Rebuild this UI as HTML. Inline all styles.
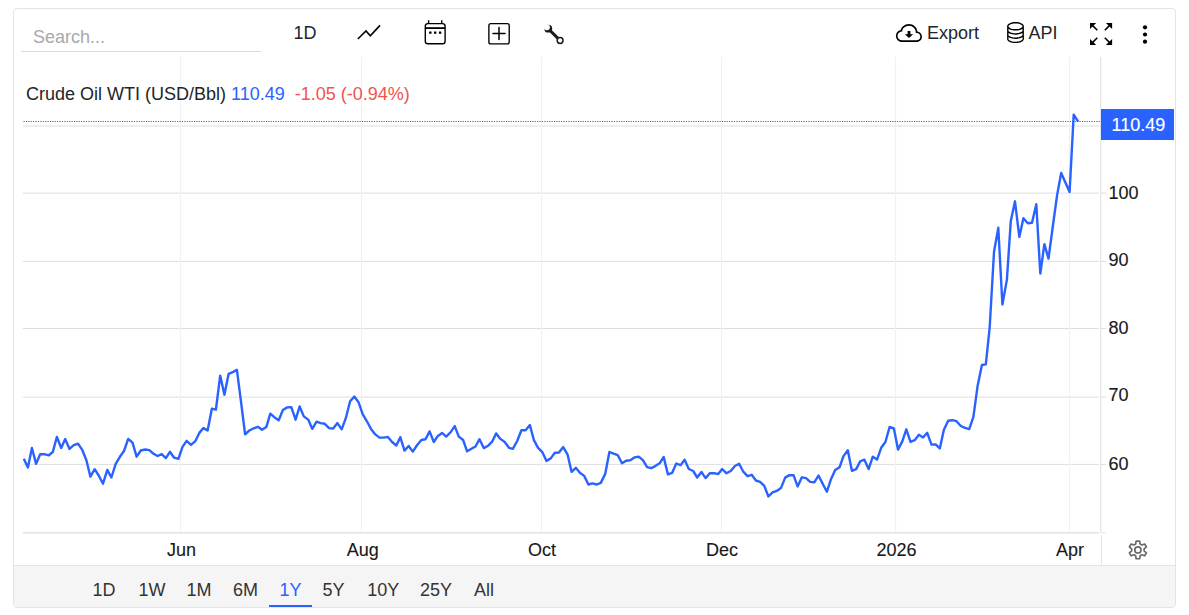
<!DOCTYPE html>
<html><head><meta charset="utf-8"><title>Crude Oil WTI</title>
<style>
html,body{margin:0;padding:0;background:#fff;}
body{width:1189px;height:615px;position:relative;overflow:hidden;font-family:"Liberation Sans",sans-serif;font-size:18px;color:#212529;}
.card{position:absolute;left:13px;top:8px;width:1161px;height:598px;border:1px solid #e1e4e8;border-radius:4px;box-sizing:content-box;}
.abs{position:absolute;white-space:nowrap;line-height:20px;}
.search{position:absolute;left:21px;top:21px;width:240px;height:30px;border-bottom:1px solid #d8dbde;}
.search span{position:absolute;left:12px;top:6px;color:#a9a9a9;line-height:20px;}
.yl{-webkit-text-stroke:0.12px #191919;position:absolute;left:1108.5px;line-height:22px;color:#191919;white-space:nowrap;}
.xl{-webkit-text-stroke:0.12px #191919;position:absolute;top:539px;width:80px;text-align:center;line-height:22px;color:#191919;white-space:nowrap;}
.bar{position:absolute;left:14px;top:565px;width:1161px;height:42px;background:#f5f5f5;border-top:1px solid #e4e4ea;box-sizing:border-box;border-radius:0 0 3px 3px;}
.rb{position:absolute;top:579px;line-height:22px;color:#333;white-space:nowrap;}
.rb.act{color:#2962ff;}
.ul{position:absolute;left:269px;top:605px;width:43px;height:2px;background:#2962ff;}
.tag{position:absolute;left:1101px;top:109px;width:73px;height:31px;background:#2962ff;color:#fff;line-height:31px;}
.tag span{-webkit-text-stroke:0.15px #fff;position:absolute;left:10.5px;top:1px;}
svg{position:absolute;left:0;top:0;}
</style></head><body>
<div class="card"></div>
<div class="bar"></div>
<svg width="1189" height="615" viewBox="0 0 1189 615">
<line x1="23" x2="1099" y1="126.0" y2="126.0" stroke="#dedede" stroke-width="1"/><line x1="1101" x2="1106" y1="126.0" y2="126.0" stroke="#dedede" stroke-width="1"/><line x1="23" x2="1099" y1="193.1" y2="193.1" stroke="#dedede" stroke-width="1"/><line x1="1101" x2="1106" y1="193.1" y2="193.1" stroke="#dedede" stroke-width="1"/><line x1="23" x2="1099" y1="261.4" y2="261.4" stroke="#dedede" stroke-width="1"/><line x1="1101" x2="1106" y1="261.4" y2="261.4" stroke="#dedede" stroke-width="1"/><line x1="23" x2="1099" y1="328.5" y2="328.5" stroke="#dedede" stroke-width="1"/><line x1="1101" x2="1106" y1="328.5" y2="328.5" stroke="#dedede" stroke-width="1"/><line x1="23" x2="1099" y1="397.1" y2="397.1" stroke="#dedede" stroke-width="1"/><line x1="1101" x2="1106" y1="397.1" y2="397.1" stroke="#dedede" stroke-width="1"/><line x1="23" x2="1099" y1="464.4" y2="464.4" stroke="#dedede" stroke-width="1"/><line x1="1101" x2="1106" y1="464.4" y2="464.4" stroke="#dedede" stroke-width="1"/><line x1="180.5" x2="180.5" y1="57" y2="532" stroke="#eef2f6" stroke-width="1.2"/><line x1="361.5" x2="361.5" y1="57" y2="532" stroke="#eef2f6" stroke-width="1.2"/><line x1="541.5" x2="541.5" y1="57" y2="532" stroke="#eef2f6" stroke-width="1.2"/><line x1="721.5" x2="721.5" y1="57" y2="532" stroke="#eef2f6" stroke-width="1.2"/><line x1="895.6" x2="895.6" y1="57" y2="532" stroke="#eef2f6" stroke-width="1.2"/><line x1="1069.5" x2="1069.5" y1="57" y2="532" stroke="#eef2f6" stroke-width="1.2"/>
<line x1="23" x2="1099" y1="532.85" y2="532.85" stroke="#e7e7e7" stroke-width="1.9"/>
<line x1="1100.2" x2="1105.9" y1="532.7" y2="532.7" stroke="#ececec" stroke-width="1.4"/>
<line x1="1100.65" x2="1100.65" y1="57" y2="532.3" stroke="#e4e4e4" stroke-width="1.2"/>
<line x1="1101.5" x2="1101.5" y1="535" y2="565" stroke="#e4e4e4" stroke-width="1.2"/>
<line x1="23" x2="1101" y1="121.5" y2="121.5" stroke="#2962ff" stroke-width="1" stroke-dasharray="1.2 1.2" stroke-dashoffset="1.9"/>
<polyline points="23.8,458.8 27.9,467.4 31.9,448.0 36.1,463.9 40.2,454.3 44.4,454.1 48.8,455.3 52.8,452.0 56.9,436.9 61.2,448.0 65.2,439.1 69.5,448.9 73.7,445.2 78.0,443.7 82.4,450.2 86.4,460.3 90.4,476.7 94.7,469.2 98.7,475.5 103.0,483.7 107.3,469.9 111.4,477.5 115.7,463.9 119.9,456.8 124.0,451.0 128.2,438.9 132.5,442.7 136.6,456.7 140.8,450.5 145.2,449.5 149.3,450.1 153.2,453.5 157.5,456.0 161.7,454.1 165.9,458.1 169.9,451.8 174.1,457.7 178.4,458.8 182.4,447.1 186.6,440.8 191.0,444.8 195.3,441.2 199.3,432.9 203.4,428.1 207.6,430.4 211.9,408.6 215.9,409.6 220.2,375.6 224.4,394.8 228.6,373.9 232.8,372.1 236.9,369.9 241.1,402.4 245.1,434.4 249.3,430.5 253.7,428.3 257.9,426.8 262.0,429.8 266.3,427.1 270.3,413.7 274.6,417.4 278.7,420.2 282.9,410.0 287.2,407.4 291.3,407.1 295.6,419.7 299.6,406.5 303.8,416.4 308.2,419.6 312.2,428.8 316.6,421.7 320.6,423.1 324.8,423.8 329.1,428.1 333.2,428.5 337.4,423.1 341.7,429.3 345.8,418.2 350.1,401.3 354.3,396.6 358.4,401.9 362.7,414.2 366.9,421.3 371.0,428.9 375.3,434.4 379.5,437.6 383.8,437.6 387.9,436.9 392.1,442.0 396.3,445.5 400.3,437.2 404.5,450.6 408.6,446.0 412.8,451.6 417.2,445.0 421.4,440.0 425.5,439.3 429.6,431.4 433.8,442.0 437.9,435.9 442.1,432.9 446.2,436.6 450.5,432.4 454.7,426.1 458.8,436.6 463.1,440.0 467.1,451.3 471.4,448.8 475.5,446.5 479.5,439.2 483.8,448.1 488.0,445.8 492.1,441.7 496.2,433.4 500.4,438.9 504.7,442.0 509.0,447.8 513.0,448.8 517.3,440.7 521.4,430.3 525.6,430.3 529.9,425.1 533.9,440.2 538.1,447.8 542.3,452.1 546.5,460.9 550.7,458.4 554.9,452.8 559.0,452.5 563.2,447.1 567.5,454.3 571.6,471.9 575.8,467.8 579.9,472.8 584.2,475.9 588.4,484.5 592.5,483.4 596.8,484.5 600.8,482.9 605.2,473.9 609.4,452.0 613.6,453.7 617.8,455.2 622.0,463.3 626.1,460.7 630.3,460.2 634.4,457.4 638.7,456.7 642.9,460.2 647.1,467.1 651.3,468.1 655.3,466.1 659.6,463.3 663.7,457.0 667.9,474.4 672.2,472.8 676.3,463.5 680.6,465.1 684.6,459.7 688.8,469.0 693.2,471.0 697.2,477.5 701.4,472.0 705.6,478.1 709.8,473.3 714.1,473.1 718.2,474.1 722.2,469.0 726.5,473.3 730.7,471.0 734.9,466.0 739.1,463.7 743.3,471.7 747.5,476.1 751.7,474.8 755.9,480.5 760.1,481.8 764.3,485.9 768.4,496.5 772.6,492.4 776.7,490.9 781.0,487.9 785.2,477.6 789.4,475.1 793.6,475.3 797.6,486.4 801.9,477.3 806.0,478.2 810.2,481.9 814.3,482.4 818.5,475.5 822.6,483.6 826.9,491.7 831.1,478.9 835.2,470.1 839.5,467.3 843.5,456.1 847.8,450.3 851.9,470.8 856.2,469.1 860.2,461.4 864.4,459.7 868.6,469.1 872.8,456.7 877.0,459.6 881.2,447.8 885.4,442.0 889.6,427.0 893.9,428.5 898.0,449.6 902.3,441.4 906.3,429.3 910.5,441.9 914.7,440.2 918.9,434.8 923.1,437.5 927.2,432.8 931.5,444.6 935.6,444.4 939.8,448.4 943.9,429.8 948.2,420.7 952.4,420.2 956.5,421.2 960.8,426.0 965.0,427.8 969.2,429.1 973.4,416.8 977.6,385.9 981.9,365.0 985.8,364.4 989.7,327.3 994.0,252.0 998.3,227.8 1002.4,304.5 1006.9,279.6 1010.8,221.0 1015.0,201.3 1019.3,236.9 1023.4,218.2 1027.8,223.3 1032.0,222.8 1036.3,204.2 1040.3,273.5 1044.4,244.2 1048.5,258.6 1052.8,226.5 1057.1,195.1 1061.2,172.9 1065.4,182.5 1069.6,192.0 1073.7,114.7 1078.2,121.6" fill="none" stroke="#2962ff" stroke-width="2.4" stroke-linejoin="round" stroke-linecap="butt"/>
<polyline points="357.8,39 366,31 370.3,35.8 380,25.4" fill="none" stroke="#000" stroke-width="1.6" stroke-linecap="butt" stroke-linejoin="miter"/>
<rect x="425.3" y="23.6" width="19.8" height="20.2" rx="2.6" fill="none" stroke="#000" stroke-width="1.4"/>
<line x1="428.6" x2="428.6" y1="20.2" y2="23.6" stroke="#000" stroke-width="1.4"/><line x1="441.7" x2="441.7" y1="20.2" y2="23.6" stroke="#000" stroke-width="1.4"/>
<line x1="425.3" x2="445.1" y1="28.1" y2="28.1" stroke="#000" stroke-width="1.8"/>
<rect x="429.1" y="31.4" width="2.4" height="2.4" rx="0.4" fill="#000"/>
<rect x="434.0" y="31.4" width="2.4" height="2.4" rx="0.4" fill="#000"/>
<rect x="438.90000000000003" y="31.4" width="2.4" height="2.4" rx="0.4" fill="#000"/>
<g transform="translate(488.2,22.9) scale(1.356)" fill="#000"><path d="M14 1a1 1 0 0 1 1 1v12a1 1 0 0 1-1 1H2a1 1 0 0 1-1-1V2a1 1 0 0 1 1-1zM2 0a2 2 0 0 0-2 2v12a2 2 0 0 0 2 2h12a2 2 0 0 0 2-2V2a2 2 0 0 0-2-2z"/></g>
<path d="M493,33.6 H505 M499,27.6 V39.6" stroke="#000" stroke-width="1.5" fill="none" stroke-linecap="round"/>
<line x1="549.8" y1="30.2" x2="558" y2="38.4" stroke="#1a1a1a" stroke-width="3"/>
<circle cx="548.3" cy="28.7" r="3.9" fill="#1a1a1a"/><circle cx="546.88" cy="27.28" r="3.0" fill="#fff"/>
<circle cx="560.1" cy="40.5" r="2.9" fill="#fff" stroke="#1a1a1a" stroke-width="1.5"/>
<g transform="translate(895.9,20.74) scale(1.631)" fill="#000"><path d="M4.406 3.342A5.53 5.53 0 0 1 8 2c2.69 0 4.923 2 5.166 4.579C14.758 6.804 16 8.137 16 9.773 16 11.569 14.502 13 12.687 13H3.781C1.708 13 0 11.366 0 9.318c0-1.763 1.266-3.223 2.942-3.593.143-.863.698-1.723 1.464-2.383m.653.757c-.757.653-1.153 1.44-1.153 2.056v.448l-.445.049C2.064 6.805 1 7.952 1 9.318 1 10.785 2.23 12 3.781 12h8.906C13.98 12 15 10.988 15 9.773c0-1.216-1.02-2.228-2.313-2.228h-.5v-.5C12.188 4.825 10.328 3 8 3a4.53 4.53 0 0 0-2.941 1.1z"/></g>
<path d="M907.6,30.9 h2.8 v3.4 h2.8 L909,38.1 L904.8,34.3 h2.8 Z" fill="#000"/>
<g transform="translate(1004.3,20.7) scale(1.4)" fill="#000"><path d="M4.318 2.687C5.234 2.271 6.536 2 8 2s2.766.27 3.682.687C12.644 3.125 13 3.627 13 4c0 .374-.356.875-1.318 1.313C10.766 5.729 9.464 6 8 6s-2.766-.27-3.682-.687C3.356 4.875 3 4.373 3 4c0-.374.356-.875 1.318-1.313M13 5.698V7c0 .374-.356.875-1.318 1.313C10.766 8.729 9.464 9 8 9s-2.766-.27-3.682-.687C3.356 7.875 3 7.373 3 7V5.698c.271.202.58.378.904.525C4.978 6.711 6.427 7 8 7s3.022-.289 4.096-.777A5 5 0 0 0 13 5.698M14 4c0-1.007-.875-1.755-1.904-2.223C11.022 1.289 9.573 1 8 1s-3.022.289-4.096.777C2.875 2.245 2 2.993 2 4v9c0 1.007.875 1.755 1.904 2.223C4.978 15.71 6.427 16 8 16s3.022-.289 4.096-.777C13.125 14.755 14 14.007 14 13zm-1 4.698V10c0 .374-.356.875-1.318 1.313C10.766 11.729 9.464 12 8 12s-2.766-.27-3.682-.687C3.356 10.875 3 10.373 3 10V8.698c.271.202.58.378.904.525C4.978 9.71 6.427 10 8 10s3.022-.289 4.096-.777A5 5 0 0 0 13 8.698m0 3V13c0 .374-.356.875-1.318 1.313C10.766 14.729 9.464 15 8 15s-2.766-.27-3.682-.687C3.356 13.875 3 13.373 3 13v-1.302c.271.202.58.378.904.525C4.978 12.71 6.427 13 8 13s3.022-.289 4.096-.777c.324-.147.633-.323.904-.525"/></g>
<path d="M1090,22.9 L1096.2,22.9 L1090,29.099999999999998Z" fill="#000"/><line x1="1091.5" y1="24.4" x2="1097.3" y2="30.2" stroke="#000" stroke-width="1.6"/><path d="M1112.1,22.9 L1105.8999999999999,22.9 L1112.1,29.099999999999998Z" fill="#000"/><line x1="1110.6" y1="24.4" x2="1104.8" y2="30.2" stroke="#000" stroke-width="1.6"/><path d="M1090,45.1 L1096.2,45.1 L1090,38.9Z" fill="#000"/><line x1="1091.5" y1="43.6" x2="1097.3" y2="37.800000000000004" stroke="#000" stroke-width="1.6"/><path d="M1112.1,45.1 L1105.8999999999999,45.1 L1112.1,38.9Z" fill="#000"/><line x1="1110.6" y1="43.6" x2="1104.8" y2="37.800000000000004" stroke="#000" stroke-width="1.6"/>
<circle cx="1145" cy="27.3" r="2.1" fill="#000"/>
<circle cx="1145" cy="34.5" r="2.1" fill="#000"/>
<circle cx="1145" cy="41.7" r="2.1" fill="#000"/>
<path d="M1135.64,544.02 L1136.18,541.07 L1139.62,541.07 L1140.16,544.02 L1141.86,545.00 L1144.69,544.00 L1146.41,546.97 L1144.12,548.91 L1144.12,550.89 L1146.41,552.83 L1144.69,555.80 L1141.86,554.80 L1140.16,555.78 L1139.62,558.73 L1136.18,558.73 L1135.64,555.78 L1133.94,554.80 L1131.11,555.80 L1129.39,552.83 L1131.68,550.89 L1131.68,548.91 L1129.39,546.97 L1131.11,544.00 L1133.94,545.00Z" fill="none" stroke="#6a6a6a" stroke-width="1.7" stroke-linejoin="round"/><circle cx="1137.9" cy="549.9" r="3.1" fill="none" stroke="#6a6a6a" stroke-width="1.7"/>
</svg>
<div class="search"><span>Search...</span></div>
<div class="abs" style="left:293.5px;top:23px;">1D</div>
<div class="abs" style="left:927px;top:23px;">Export</div>
<div class="abs" style="left:1028.5px;top:23px;">API</div>
<div class="abs" style="left:26px;top:84px;">Crude Oil WTI (USD/Bbl) <span style="color:#2962ff">110.49</span> <span style="color:#ef5350;margin-left:5px">-1.05 (-0.94%)</span></div>
<div class="tag"><span>110.49</span></div>
<div class="yl" style="top:182px">100</div><div class="yl" style="top:249px">90</div><div class="yl" style="top:317px">80</div><div class="yl" style="top:384px">70</div><div class="yl" style="top:453px">60</div>
<div class="xl" style="left:141.6px">Jun</div><div class="xl" style="left:322.8px">Aug</div><div class="xl" style="left:502px">Oct</div><div class="xl" style="left:682px">Dec</div><div class="xl" style="left:856.6px">2026</div><div class="xl" style="left:1030px">Apr</div>
<div class="rb" style="left:92.4px">1D</div><div class="rb" style="left:138.6px">1W</div><div class="rb" style="left:186.6px">1M</div><div class="rb" style="left:233.0px">6M</div><div class="rb act" style="left:279.4px">1Y</div><div class="rb" style="left:322.4px">5Y</div><div class="rb" style="left:367.2px">10Y</div><div class="rb" style="left:420px">25Y</div><div class="rb" style="left:474px">All</div>
<div class="ul"></div>
</body></html>
